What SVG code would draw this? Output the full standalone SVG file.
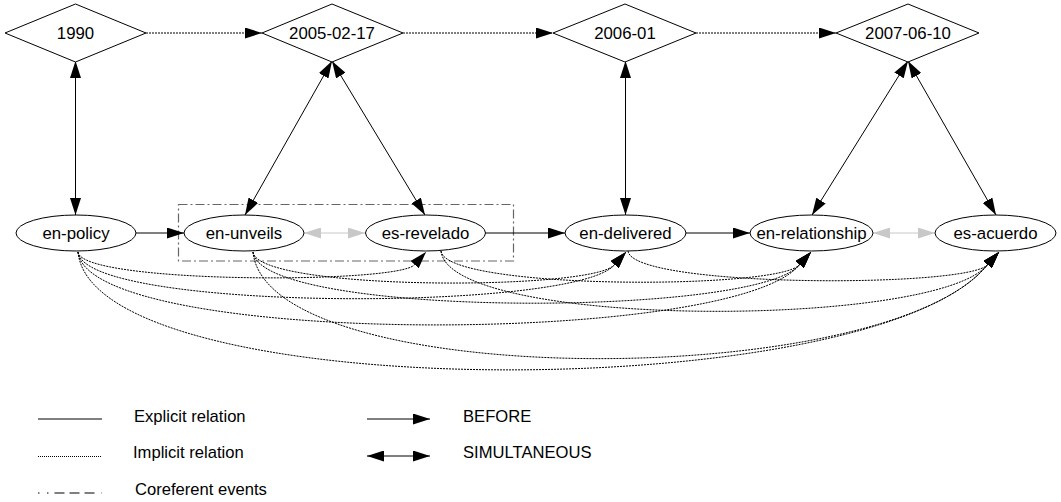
<svg xmlns="http://www.w3.org/2000/svg" width="1061" height="502" viewBox="0 0 1061 502">
<style>
.node polygon,.node ellipse{fill:#fff;stroke:#000;stroke-width:1}
text{font-family:"Liberation Sans",Arial,sans-serif;fill:#000}
.nt{font-size:16.8px;text-anchor:middle}
.lt{font-size:16.6px}
.e{fill:none;stroke:#000;stroke-width:1}
.sim{marker-start:url(#ah);marker-end:url(#ah)}
.bef{marker-end:url(#ah)}
.dot{stroke-dasharray:2 1}
.gray{stroke:#c8c8c8;marker-start:url(#ahg);marker-end:url(#ahg)}
.coref{fill:none;stroke:#666;stroke-width:1.2;stroke-dasharray:9 3 2 3}
</style>
<defs>
<marker id="ah" markerUnits="userSpaceOnUse" markerWidth="17" markerHeight="11" refX="17" refY="5.5" orient="auto-start-reverse"><path d="M0,0 L17,5.5 L0,11 z" fill="#000"/></marker>
<marker id="ahg" markerUnits="userSpaceOnUse" markerWidth="17" markerHeight="11" refX="17" refY="5.5" orient="auto-start-reverse"><path d="M0,0 L17,5.5 L0,11 z" fill="#c8c8c8"/></marker>
</defs>

<rect class="coref" x="178.5" y="204.5" width="335" height="56.5"/>

<g id="edges">
<!-- timeline -->
<path class="e dot bef" d="M146,33 L262,33"/>
<path class="e dot bef" d="M403,33 L553,33"/>
<path class="e dot bef" d="M696,33 L836,33"/>
<!-- simultaneous with time -->
<path class="e sim" d="M75.5,61 L75.5,215"/>
<path class="e sim" d="M332,61 L245,215"/>
<path class="e sim" d="M332,61 L425,215"/>
<path class="e sim" d="M625.5,61 L625.5,215"/>
<path class="e sim" d="M908,61 L812,215"/>
<path class="e sim" d="M908,61 L996,215"/>
<!-- explicit before -->
<path class="e bef" d="M136,233 L184,233"/>
<path class="e bef" d="M485,233 L565,233"/>
<path class="e bef" d="M686,233 L750,233"/>
<!-- coreferent simultaneous -->
<path class="e gray" d="M304,233 L365,233"/>
<path class="e gray" d="M873,233 L935,233"/>
<!-- implicit before -->
<path class="e dot bef" d="M78,252 C81,284 400,284 414.6,264.6 L426,252"/>
<path class="e dot bef" d="M78,252 C84,312 577,312 614.6,264.6 L626,252"/>
<path class="e dot bef" d="M78,252 C88,347 734,347 799.6,264.6 L811,252"/>
<path class="e dot bef" d="M78,252 C93,407 874,407 987.6,264.6 L999,252"/>
<path class="e dot bef" d="M253,252 C257,291 594,291 614.6,264.6 L626,252"/>
<path class="e dot bef" d="M253,252 C260,318 758,318 799.6,264.6 L811,252"/>
<path class="e dot bef" d="M253,252 C267,392 886,392 987.6,264.6 L999,252"/>
<path class="e dot bef" d="M441,251 C445,290 780,290 799.6,264.6 L811,252"/>
<path class="e dot bef" d="M441,251 C449,329 937,329 987.6,264.6 L999,252"/>
<path class="e dot bef" d="M628,251 C632,288 970,288 987.6,264.6 L999,252"/>
</g>

<g id="n1990" class="node"><polygon points="75.5,4 146,33 75.5,62 5,33"/><text class="nt" x="75.5" y="39">1990</text></g>
<g id="n2005" class="node"><polygon points="332,4 403,33 332,62 262,33"/><text class="nt" x="332" y="39">2005-02-17</text></g>
<g id="n2006" class="node"><polygon points="625,4 696,33 625,62 553,33"/><text class="nt" x="625" y="39">2006-01</text></g>
<g id="n2007" class="node"><polygon points="908,4 979,33 908,62 836,33"/><text class="nt" x="908" y="39">2007-06-10</text></g>

<g id="policy" class="node"><ellipse cx="76" cy="233" rx="60" ry="18"/><text class="nt" x="76" y="239">en-policy</text></g>
<g id="unveils" class="node"><ellipse cx="244" cy="233" rx="60" ry="18"/><text class="nt" x="244" y="239">en-unveils</text></g>
<g id="revelado" class="node"><ellipse cx="425.5" cy="233" rx="60" ry="18"/><text class="nt" x="425.5" y="239">es-revelado</text></g>
<g id="delivered" class="node"><ellipse cx="625.5" cy="233" rx="60.5" ry="18"/><text class="nt" x="625.5" y="239">en-delivered</text></g>
<g id="relationship" class="node"><ellipse cx="811.5" cy="233" rx="61.5" ry="18"/><text class="nt" x="811.5" y="239">en-relationship</text></g>
<g id="acuerdo" class="node"><ellipse cx="995.5" cy="233" rx="60.5" ry="18"/><text class="nt" x="995.5" y="239">es-acuerdo</text></g>

<g id="legend">
<line x1="38" y1="419" x2="102" y2="419" stroke="#000" stroke-width="1"/>
<text class="lt" x="134" y="422">Explicit relation</text>
<line x1="38" y1="456.5" x2="102" y2="456.5" stroke="#000" stroke-width="1" stroke-dasharray="1 1"/>
<text class="lt" x="133" y="458">Implicit relation</text>
<line x1="38" y1="493" x2="102" y2="493" stroke="#000" stroke-width="1" stroke-dasharray="1.5 7.5 1.5 6 10 5 10 5 10 7 1.5 100"/>
<text class="lt" x="135" y="495">Coreferent events</text>
<line x1="367" y1="419" x2="430" y2="419" stroke="#000" stroke-width="1" marker-end="url(#ah)"/>
<text class="lt" x="463" y="422">BEFORE</text>
<line x1="367" y1="456" x2="430" y2="456" stroke="#000" stroke-width="1" marker-start="url(#ah)" marker-end="url(#ah)"/>
<text class="lt" x="463" y="458">SIMULTANEOUS</text>
</g>
</svg>
